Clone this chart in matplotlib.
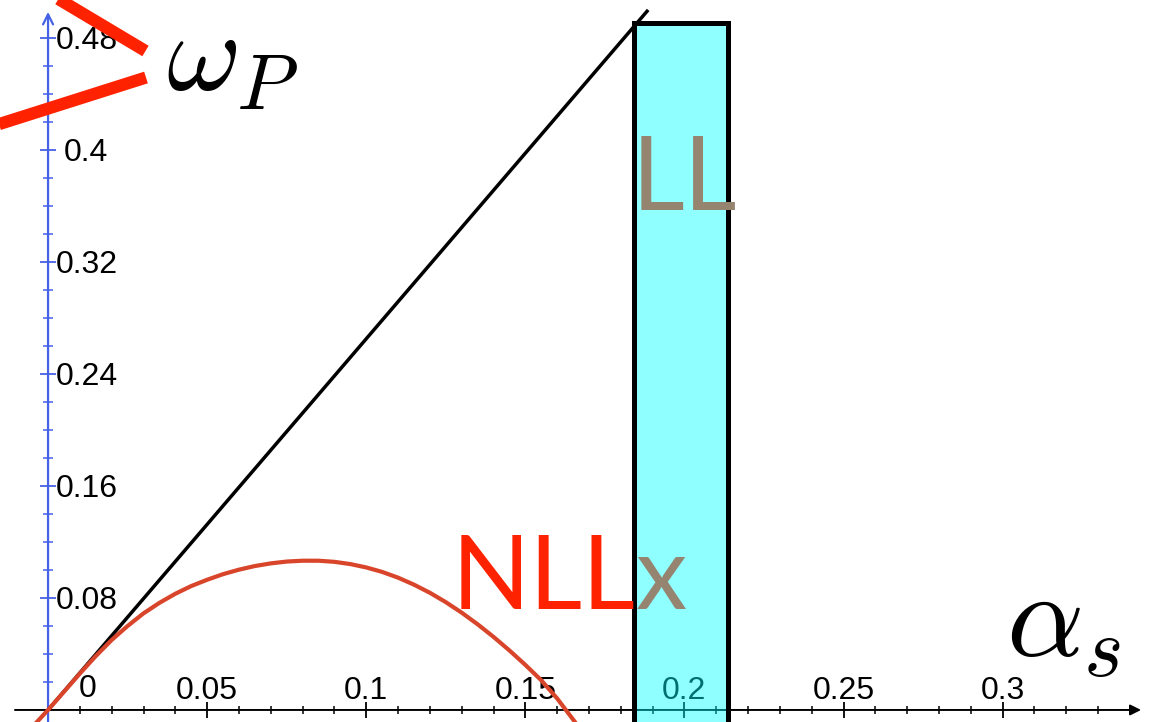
import numpy as np
import matplotlib
matplotlib.use('Agg')
import matplotlib.pyplot as plt
from matplotlib.lines import Line2D
from matplotlib.patches import Rectangle

plt.rcParams['font.family'] = ['Liberation Sans', 'DejaVu Sans']
plt.rcParams['mathtext.fontset'] = 'cm'

# leading-log intercept: straight line in alpha_s
alpha_ll = [0.0, 0.1886]
omega_ll = [0.0, 0.500]

# next-to-leading-log intercept
alpha_nll = [-0.0035, 0.0, 0.005, 0.01, 0.015, 0.02, 0.025, 0.03, 0.035, 0.04, 0.045,
             0.05, 0.055, 0.06, 0.065, 0.07, 0.075, 0.08, 0.085, 0.09, 0.095,
             0.10, 0.105, 0.11, 0.115, 0.12, 0.125, 0.13, 0.135, 0.14, 0.145,
             0.15, 0.155, 0.16, 0.1656]
omega_nll = [-0.0086, 0.0, 0.0130, 0.0260, 0.0385, 0.0500, 0.0600, 0.0690, 0.0765, 0.0830, 0.0885,
             0.0930, 0.0970, 0.1002, 0.1028, 0.1047, 0.1060, 0.1066, 0.1066, 0.1058, 0.1042,
             0.1018, 0.0986, 0.0945, 0.0895, 0.0837, 0.0770, 0.0695, 0.0612, 0.0522, 0.0425,
             0.0322, 0.0212, 0.0082, -0.0086]

# highlighted alpha_s window
band_lo, band_hi, band_top = 0.1843, 0.2137, 0.491

xmajor = [0.05, 0.1, 0.15, 0.2, 0.25, 0.3]
xmajor_labels = ['0.05', '0.1', '0.15', '0.2', '0.25', '0.3']
xminor = [0.01, 0.02, 0.03, 0.04, 0.06, 0.07, 0.08, 0.09, 0.11, 0.12, 0.13, 0.14,
          0.16, 0.17, 0.18, 0.19, 0.21, 0.22, 0.23, 0.24, 0.26, 0.27, 0.28, 0.29,
          0.31, 0.32, 0.33, 0.34]
ymajor = [0.08, 0.16, 0.24, 0.32, 0.4, 0.48]
ymajor_labels = ['0.08', '0.16', '0.24', '0.32', '0.4', '0.48']
yminor = [0.02, 0.04, 0.06, 0.10, 0.12, 0.14, 0.18, 0.20, 0.22, 0.26, 0.28, 0.30,
          0.34, 0.36, 0.38, 0.42, 0.44, 0.46]

blue = '#4561E6'
red_txt = '#FF2200'
grey = '#948470'
big = dict(fontsize=74, family=['Lato', 'DejaVu Sans'])

fig = plt.figure(figsize=(11.7, 7.22), dpi=100)
ax = fig.add_axes([0, 0, 1, 1])
ax.set_xlim(-0.0151, 0.3526)
ax.set_ylim(-0.0086, 0.5071)
for s in ax.spines.values():
    s.set_visible(False)
ax.spines['left'].set_position(('data', 0))
ax.spines['bottom'].set_position(('data', 0))

# axes with arrows
ax.annotate('', xy=(0.3435, 0), xytext=(-0.0104, 0),
            arrowprops=dict(arrowstyle='-|>', color='k', lw=1.4, mutation_scale=16,
                            shrinkA=0, shrinkB=0), zorder=2)
ax.annotate('', xy=(0, 0.4986), xytext=(0, -0.02),
            arrowprops=dict(arrowstyle='->', color=blue, lw=1.6, mutation_scale=18,
                            shrinkA=0, shrinkB=0), zorder=2)

ax.set_xticks(xmajor)
ax.set_xticklabels(xmajor_labels)
ax.set_xticks(xminor, minor=True)
ax.set_yticks(ymajor)
ax.set_yticklabels(ymajor_labels)
ax.set_yticks(yminor, minor=True)
ax.tick_params(axis='x', which='major', direction='inout', length=12, width=1.3,
               color='k', labelsize=23, pad=-42 * 0.72)
ax.tick_params(axis='x', which='minor', direction='inout', length=6, width=1.1, color='k')
ax.tick_params(axis='y', which='major', direction='inout', length=11, width=1.3,
               color=blue, labelsize=23, pad=-46 * 0.72)
ax.tick_params(axis='y', which='minor', direction='inout', length=7, width=1.1, color=blue)
for lbl in ax.get_yticklabels():
    lbl.set_ha('center')
ax.annotate('0', xy=(0, 0), xytext=(40, 13), textcoords='offset pixels',
            ha='center', va='baseline', fontsize=23)

ax.plot(alpha_ll, omega_ll, color='k', lw=2.5, zorder=3, solid_capstyle='butt')
ax.plot(alpha_nll, omega_nll, color='#D9452B', lw=3.0, zorder=3.2)

ax.add_patch(Rectangle((band_lo, -0.05), band_hi - band_lo, band_top + 0.05,
                       facecolor=(0, 1, 1, 0.44), edgecolor='k', lw=3.6, zorder=4))

ax.text(0.1835, 0.357, 'LL', color=grey, va='baseline', zorder=5, **big)
nll = ax.text(0.1268, 0.0721, 'NLL', color=red_txt, va='baseline', zorder=5, **big)
ax.annotate('x', xy=(1, 0), xycoords=nll, ha='left', va='bottom', color=grey,
            zorder=5, **big)

# axis names
W, H = 1170, 722
fig.text(166 / W, 1 - 91 / H, r'$\omega_P$', fontsize=82, va='baseline')
fig.text(1006 / W, 1 - 656 / H, r'$\alpha_s$', fontsize=87, va='baseline')

# red arrow strokes pointing at omega_P
strokes = [((40, -12), (145.5, 51)), ((-10, 127), (146, 77.5))]
for (x0, y0), (x1, y1) in strokes:
    fig.add_artist(Line2D([x0 / W, x1 / W], [1 - y0 / H, 1 - y1 / H],
                          transform=fig.transFigure, color=red_txt, lw=8.8,
                          solid_capstyle='butt'))

fig.savefig('out.png', dpi=100)
